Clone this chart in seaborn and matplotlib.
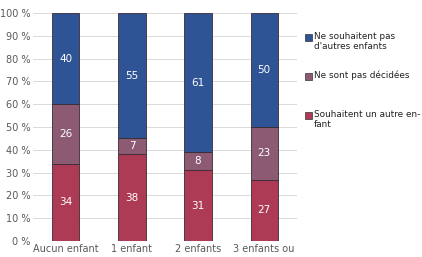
import matplotlib
matplotlib.use('Agg')
import matplotlib.pyplot as plt
import matplotlib.patches as mpatches
import seaborn as sns
import pandas as pd

# données
categories = ['Aucun enfant', '1 enfant', '2 enfants', '3 enfants ou']
souhaitent = [34, 38, 31, 27]
indecises = [26, 7, 8, 23]
ne_souhaitent_pas = [40, 55, 61, 50]

series_labels = ["Ne souhaitent pas\nd'autres enfants", 'Ne sont pas décidées',
                 'Souhaitent un autre en-\nfant']
colors = ['#2F5496', '#8C5A72', '#AE3B56']

sns.set_style('white')
plt.rcParams['font.family'] = ['DejaVu Sans']

df = pd.DataFrame({'cat': categories, 'souhaitent': souhaitent,
                   'indecises': indecises, 'non': ne_souhaitent_pas})

fig = plt.figure(figsize=(4.22, 2.57), dpi=100)
ax = fig.add_axes([0.078, 0.062, 0.626, 0.887])

bottom1 = df['souhaitent']
bottom2 = df['souhaitent'] + df['indecises']
sns.barplot(x='cat', y='souhaitent', data=df, color=colors[2], width=0.41,
            edgecolor='#3a2a30', linewidth=0.6, ax=ax, saturation=1)
sns.barplot(x='cat', y='indecises', data=df, color=colors[1], width=0.41,
            bottom=bottom1, edgecolor='#3a2a30', linewidth=0.6, ax=ax, saturation=1)
sns.barplot(x='cat', y='non', data=df, color=colors[0], width=0.41,
            bottom=bottom2, edgecolor='#3a2a30', linewidth=0.6, ax=ax, saturation=1)

# étiquettes de valeurs
for i in range(len(categories)):
    ax.text(i, souhaitent[i] / 2, str(souhaitent[i]), ha='center', va='center',
            color='white', fontsize=7.5)
    ax.text(i, souhaitent[i] + indecises[i] / 2, str(indecises[i]), ha='center',
            va='center', color='white', fontsize=7.5)
    ax.text(i, souhaitent[i] + indecises[i] + ne_souhaitent_pas[i] / 2,
            str(ne_souhaitent_pas[i]), ha='center', va='center', color='white',
            fontsize=7.5)

ax.set_xlim(-0.5, 3.5)
ax.set_ylim(0, 100)
ax.set_yticks(range(0, 101, 10))
ax.set_yticklabels([f'{v} %' for v in range(0, 101, 10)])
ax.set_xlabel('')
ax.set_ylabel('')
ax.tick_params(axis='both', labelsize=7, colors='#595959', length=0, pad=2)
ax.yaxis.grid(True, color='#d9d9d9', linewidth=0.7)
ax.set_axisbelow(True)
for s in ax.spines.values():
    s.set_visible(False)

# légende
leg_y = [37, 76, 115]
for lab, col, y in zip(series_labels, colors, leg_y):
    fig.patches.append(mpatches.Rectangle((305 / 422, 1 - (y + 4) / 257), 7 / 422, 7 / 257,
                                          transform=fig.transFigure, facecolor=col,
                                          edgecolor='#333333', linewidth=0.5))
    fig.text(314 / 422, 1 - (y - 5) / 257, lab, fontsize=6.4, color='#222222',
             va='top', ha='left', linespacing=1.1)

fig.savefig('out.png', dpi=100)
